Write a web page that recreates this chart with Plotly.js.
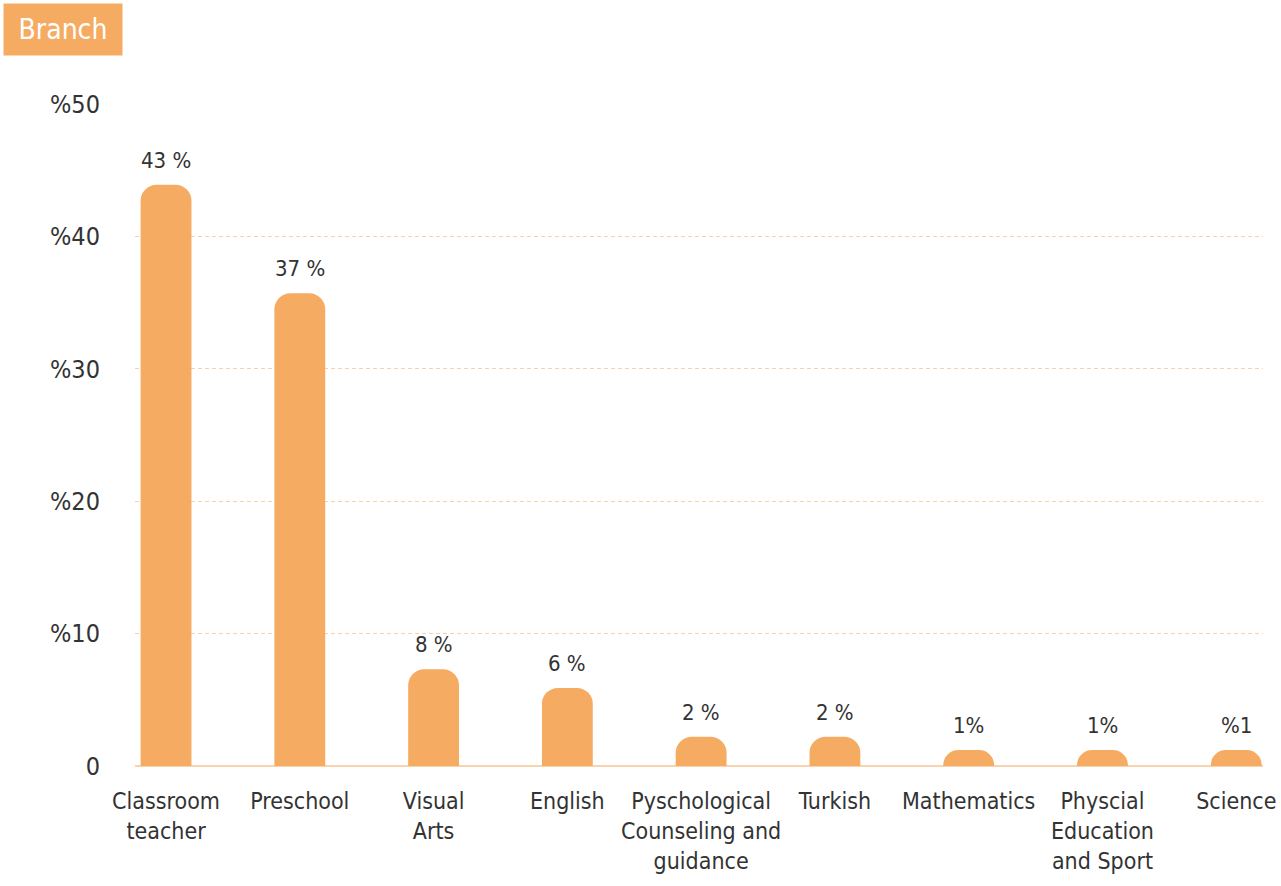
<!DOCTYPE html>
<html>
<head>
<meta charset="utf-8">
<script src="https://cdn.plot.ly/plotly-3.0.1.min.js"></script>
<style>html,body{margin:0;padding:0;background:#fff;}#chart{width:1281px;height:886px;}</style>
</head>
<body>
<div id="chart"></div>
<script>
const categories = ["Classroom<br>teacher", "Preschool", "Visual<br>Arts", "English", "Pyschological<br>Counseling and<br>guidance", "Turkish", "Mathematics", "Physcial<br>Education<br>and Sport", "Science"];
const values = [43.9, 35.7, 7.3, 5.9, 2.2, 2.2, 1.2, 1.2, 1.2];
const valueLabels = ["43 %", "37 %", "8 %", "6 %", "2 %", "2 %", "1%", "1%", "%1"];
const yTickVals = [0, 10, 20, 30, 40, 50];
const yTickText = ["0", "%10", "%20", "%30", "%40", "%50"];
const chartTitle = "Branch";

const FONT = '"DejaVu Sans Condensed", "Liberation Sans Narrow", "Roboto", sans-serif';
const ORANGE = '#F6AB63';

const trace = {
  type: 'bar',
  x: categories.map((c, i) => i),
  y: values,
  marker: {color: ORANGE, line: {width: 0}},
  hoverinfo: 'skip'
};

const annotations = valueLabels.map((t, i) => ({
  x: i, y: values[i], xref: 'x', yref: 'y',
  text: t, showarrow: false, yanchor: 'bottom', yshift: 10,
  font: {family: FONT, size: 22, color: '#333333'}
}));

annotations.push({
  xref: 'paper', yref: 'paper', x: -0.117, y: 1.1526,
  xanchor: 'left', yanchor: 'top',
  text: chartTitle, showarrow: false,
  bgcolor: ORANGE, width: 118, height: 51, borderpad: 0,
  align: 'center', valign: 'middle',
  font: {family: FONT, size: 28, color: '#ffffff'}
});

const layout = {
  width: 1281, height: 886,
  margin: {l: 135, r: 18, t: 104, b: 120},
  paper_bgcolor: '#ffffff', plot_bgcolor: '#ffffff',
  showlegend: false,
  bargap: 0.62,
  barcornerradius: 16,
  font: {family: FONT, color: '#333333'},
  xaxis: {
    range: [-0.232, 8.2],
    tickvals: categories.map((c, i) => i),
    ticktext: categories,
    tickfont: {family: FONT, size: 23, color: '#333333'},
    showgrid: false, zeroline: false, showline: false,
    ticks: '', ticklabelstandoff: 19, fixedrange: true
  },
  yaxis: {
    range: [0, 50],
    tickvals: yTickVals, ticktext: yTickText,
    tickfont: {family: FONT, size: 25, color: '#333333'},
    showgrid: true, gridcolor: '#F8D0AA', griddash: '4px,3px', gridwidth: 1,
    zeroline: true, zerolinecolor: '#F9D2B0', zerolinewidth: 2,
    showline: false, ticks: '', ticklabelstandoff: 34, fixedrange: true
  },
  annotations: annotations
};

Plotly.newPlot('chart', [trace], layout, {displayModeBar: false, staticPlot: true});
</script>
</body>
</html>
